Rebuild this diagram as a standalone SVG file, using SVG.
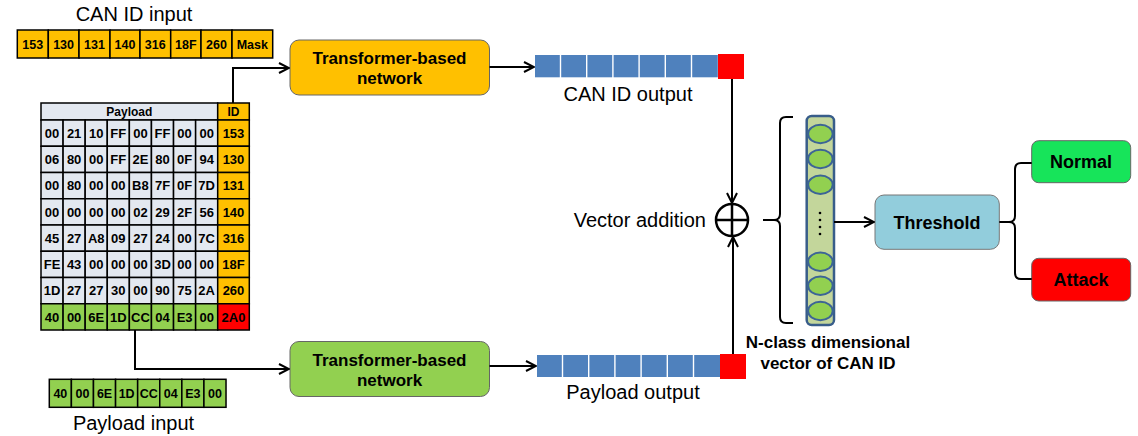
<svg xmlns="http://www.w3.org/2000/svg" width="1138" height="436" viewBox="0 0 1138 436">
<defs>
<marker id="arr" viewBox="0 0 12 12" markerWidth="12" markerHeight="12" refX="11" refY="6" orient="auto" markerUnits="userSpaceOnUse">
<path d="M1,1 L11,6 L1,11" fill="none" stroke="#000" stroke-width="2"/>
</marker>
</defs>
<style>
text{font-family:"Liberation Sans",Arial,sans-serif;fill:#000}
.lbl{font-size:20px}
.b{font-weight:bold}
.cell{font-size:13px;font-weight:bold;text-anchor:middle}
.g{stroke:#000;stroke-width:1.5}
.pl{fill:#E3E8F0}
.or{fill:#FFC000}
.gr{fill:#92D050}
.rd{fill:#FF0000}
.bl{fill:#4F81BD}
.con{fill:none;stroke:#000;stroke-width:2}
.box{stroke:#666;stroke-width:1}
.ttl{font-size:17px;font-weight:bold;text-anchor:middle}
.el{fill:#92D050;stroke:#3C6496;stroke-width:2}
</style>
<rect width="1138" height="436" fill="#fff"/>

<g id="can-id-input">
<text class="lbl" x="134" y="21" text-anchor="middle">CAN ID input</text>
<rect class="g or" x="17.3" y="30" width="31" height="28"/>
<rect class="g or" x="48.3" y="30" width="30.7" height="28"/>
<rect class="g or" x="79" y="30" width="31" height="28"/>
<rect class="g or" x="110" y="30" width="30" height="28"/>
<rect class="g or" x="140" y="30" width="30.7" height="28"/>
<rect class="g or" x="170.7" y="30" width="30.3" height="28"/>
<rect class="g or" x="201" y="30" width="31" height="28"/>
<rect class="g or" x="232" y="30" width="40.7" height="28"/>
<text class="cell" style="font-size:12.5px" y="48.5"><tspan x="32.8">153</tspan><tspan x="63.6">130</tspan><tspan x="94.5">131</tspan><tspan x="125">140</tspan><tspan x="155.3">316</tspan><tspan x="185.8">18F</tspan><tspan x="216.5">260</tspan><tspan x="252.3">Mask</tspan></text>
</g>

<g id="payload-table">
<rect class="g pl" x="41" y="103" width="176.7" height="17"/>
<rect class="g or" x="217.7" y="103" width="31.6" height="17"/>
<text class="cell" style="font-size:12px" x="129.3" y="116">Payload</text>
<text class="cell" style="font-size:12px" x="233.5" y="116">ID</text>
<g id="rows">
<g class="g pl">
<rect x="41" y="120" width="22.09" height="26.25"/><rect x="63.09" y="120" width="22.09" height="26.25"/><rect x="85.18" y="120" width="22.09" height="26.25"/><rect x="107.27" y="120" width="22.09" height="26.25"/><rect x="129.36" y="120" width="22.09" height="26.25"/><rect x="151.45" y="120" width="22.09" height="26.25"/><rect x="173.54" y="120" width="22.09" height="26.25"/><rect x="195.63" y="120" width="22.09" height="26.25"/>
<rect x="41" y="146.25" width="22.09" height="26.25"/><rect x="63.09" y="146.25" width="22.09" height="26.25"/><rect x="85.18" y="146.25" width="22.09" height="26.25"/><rect x="107.27" y="146.25" width="22.09" height="26.25"/><rect x="129.36" y="146.25" width="22.09" height="26.25"/><rect x="151.45" y="146.25" width="22.09" height="26.25"/><rect x="173.54" y="146.25" width="22.09" height="26.25"/><rect x="195.63" y="146.25" width="22.09" height="26.25"/>
<rect x="41" y="172.5" width="22.09" height="26.25"/><rect x="63.09" y="172.5" width="22.09" height="26.25"/><rect x="85.18" y="172.5" width="22.09" height="26.25"/><rect x="107.27" y="172.5" width="22.09" height="26.25"/><rect x="129.36" y="172.5" width="22.09" height="26.25"/><rect x="151.45" y="172.5" width="22.09" height="26.25"/><rect x="173.54" y="172.5" width="22.09" height="26.25"/><rect x="195.63" y="172.5" width="22.09" height="26.25"/>
<rect x="41" y="198.75" width="22.09" height="26.25"/><rect x="63.09" y="198.75" width="22.09" height="26.25"/><rect x="85.18" y="198.75" width="22.09" height="26.25"/><rect x="107.27" y="198.75" width="22.09" height="26.25"/><rect x="129.36" y="198.75" width="22.09" height="26.25"/><rect x="151.45" y="198.75" width="22.09" height="26.25"/><rect x="173.54" y="198.75" width="22.09" height="26.25"/><rect x="195.63" y="198.75" width="22.09" height="26.25"/>
<rect x="41" y="225" width="22.09" height="26.25"/><rect x="63.09" y="225" width="22.09" height="26.25"/><rect x="85.18" y="225" width="22.09" height="26.25"/><rect x="107.27" y="225" width="22.09" height="26.25"/><rect x="129.36" y="225" width="22.09" height="26.25"/><rect x="151.45" y="225" width="22.09" height="26.25"/><rect x="173.54" y="225" width="22.09" height="26.25"/><rect x="195.63" y="225" width="22.09" height="26.25"/>
<rect x="41" y="251.25" width="22.09" height="26.25"/><rect x="63.09" y="251.25" width="22.09" height="26.25"/><rect x="85.18" y="251.25" width="22.09" height="26.25"/><rect x="107.27" y="251.25" width="22.09" height="26.25"/><rect x="129.36" y="251.25" width="22.09" height="26.25"/><rect x="151.45" y="251.25" width="22.09" height="26.25"/><rect x="173.54" y="251.25" width="22.09" height="26.25"/><rect x="195.63" y="251.25" width="22.09" height="26.25"/>
<rect x="41" y="277.5" width="22.09" height="26.25"/><rect x="63.09" y="277.5" width="22.09" height="26.25"/><rect x="85.18" y="277.5" width="22.09" height="26.25"/><rect x="107.27" y="277.5" width="22.09" height="26.25"/><rect x="129.36" y="277.5" width="22.09" height="26.25"/><rect x="151.45" y="277.5" width="22.09" height="26.25"/><rect x="173.54" y="277.5" width="22.09" height="26.25"/><rect x="195.63" y="277.5" width="22.09" height="26.25"/>
</g>
<g class="g gr">
<rect x="41" y="303.75" width="22.09" height="26.25"/><rect x="63.09" y="303.75" width="22.09" height="26.25"/><rect x="85.18" y="303.75" width="22.09" height="26.25"/><rect x="107.27" y="303.75" width="22.09" height="26.25"/><rect x="129.36" y="303.75" width="22.09" height="26.25"/><rect x="151.45" y="303.75" width="22.09" height="26.25"/><rect x="173.54" y="303.75" width="22.09" height="26.25"/><rect x="195.63" y="303.75" width="22.09" height="26.25"/>
</g>
<g class="g or">
<rect x="217.7" y="120" width="31.6" height="26.25"/><rect x="217.7" y="146.25" width="31.6" height="26.25"/><rect x="217.7" y="172.5" width="31.6" height="26.25"/><rect x="217.7" y="198.75" width="31.6" height="26.25"/><rect x="217.7" y="225" width="31.6" height="26.25"/><rect x="217.7" y="251.25" width="31.6" height="26.25"/><rect x="217.7" y="277.5" width="31.6" height="26.25"/>
</g>
<rect class="g rd" x="217.7" y="303.75" width="31.6" height="26.25"/>
</g>
<g id="cell-text">
<text class="cell" y="137.8"><tspan x="52.05">00</tspan><tspan x="74.14">21</tspan><tspan x="96.23">10</tspan><tspan x="118.32">FF</tspan><tspan x="140.41">00</tspan><tspan x="162.5">FF</tspan><tspan x="184.59">00</tspan><tspan x="206.68">00</tspan><tspan x="233.5">153</tspan></text>
<text class="cell" y="164.05"><tspan x="52.05">06</tspan><tspan x="74.14">80</tspan><tspan x="96.23">00</tspan><tspan x="118.32">FF</tspan><tspan x="140.41">2E</tspan><tspan x="162.5">80</tspan><tspan x="184.59">0F</tspan><tspan x="206.68">94</tspan><tspan x="233.5">130</tspan></text>
<text class="cell" y="190.3"><tspan x="52.05">00</tspan><tspan x="74.14">80</tspan><tspan x="96.23">00</tspan><tspan x="118.32">00</tspan><tspan x="140.41">B8</tspan><tspan x="162.5">7F</tspan><tspan x="184.59">0F</tspan><tspan x="206.68">7D</tspan><tspan x="233.5">131</tspan></text>
<text class="cell" y="216.55"><tspan x="52.05">00</tspan><tspan x="74.14">00</tspan><tspan x="96.23">00</tspan><tspan x="118.32">00</tspan><tspan x="140.41">02</tspan><tspan x="162.5">29</tspan><tspan x="184.59">2F</tspan><tspan x="206.68">56</tspan><tspan x="233.5">140</tspan></text>
<text class="cell" y="242.8"><tspan x="52.05">45</tspan><tspan x="74.14">27</tspan><tspan x="96.23">A8</tspan><tspan x="118.32">09</tspan><tspan x="140.41">27</tspan><tspan x="162.5">24</tspan><tspan x="184.59">00</tspan><tspan x="206.68">7C</tspan><tspan x="233.5">316</tspan></text>
<text class="cell" y="269.05"><tspan x="52.05">FE</tspan><tspan x="74.14">43</tspan><tspan x="96.23">00</tspan><tspan x="118.32">00</tspan><tspan x="140.41">00</tspan><tspan x="162.5">3D</tspan><tspan x="184.59">00</tspan><tspan x="206.68">00</tspan><tspan x="233.5">18F</tspan></text>
<text class="cell" y="295.3"><tspan x="52.05">1D</tspan><tspan x="74.14">27</tspan><tspan x="96.23">27</tspan><tspan x="118.32">30</tspan><tspan x="140.41">00</tspan><tspan x="162.5">90</tspan><tspan x="184.59">75</tspan><tspan x="206.68">2A</tspan><tspan x="233.5">260</tspan></text>
<text class="cell" y="321.55"><tspan x="52.05">40</tspan><tspan x="74.14">00</tspan><tspan x="96.23">6E</tspan><tspan x="118.32">1D</tspan><tspan x="140.41">CC</tspan><tspan x="162.5">04</tspan><tspan x="184.59">E3</tspan><tspan x="206.68">00</tspan><tspan x="233.5">2A0</tspan></text>
</g>
</g>

<g id="payload-input">
<g class="g gr">
<rect x="49.3" y="379.3" width="22.09" height="28"/><rect x="71.39" y="379.3" width="22.09" height="28"/><rect x="93.48" y="379.3" width="22.09" height="28"/><rect x="115.57" y="379.3" width="22.09" height="28"/><rect x="137.66" y="379.3" width="22.09" height="28"/><rect x="159.75" y="379.3" width="22.09" height="28"/><rect x="181.84" y="379.3" width="22.09" height="28"/><rect x="203.93" y="379.3" width="22.09" height="28"/>
</g>
<text class="cell" style="font-size:12.5px" y="397.8"><tspan x="60.35">40</tspan><tspan x="82.44">00</tspan><tspan x="104.53">6E</tspan><tspan x="126.62">1D</tspan><tspan x="148.71">CC</tspan><tspan x="170.8">04</tspan><tspan x="192.89">E3</tspan><tspan x="214.98">00</tspan></text>
<text class="lbl" x="133.5" y="430" text-anchor="middle">Payload input</text>
</g>

<g id="transformer-id">
<rect class="box or" x="290" y="40" width="199.5" height="55" rx="9"/>
<text class="ttl" x="389.5" y="64">Transformer-based</text>
<text class="ttl" x="389.5" y="84">network</text>
</g>

<g id="transformer-payload">
<rect class="box gr" x="290" y="341.5" width="199.5" height="55" rx="9"/>
<text class="ttl" x="389.5" y="365.5">Transformer-based</text>
<text class="ttl" x="389.5" y="385.5">network</text>
</g>

<g id="can-id-output">
<rect class="bl" x="535" y="55" width="24.8" height="22.3"/>
<rect class="bl" x="561.2" y="55" width="24.8" height="22.3"/>
<rect class="bl" x="587.4" y="55" width="24.8" height="22.3"/>
<rect class="bl" x="613.6" y="55" width="24.8" height="22.3"/>
<rect class="bl" x="639.8" y="55" width="24.8" height="22.3"/>
<rect class="bl" x="666" y="55" width="24.8" height="22.3"/>
<rect class="bl" x="692.2" y="55" width="25.6" height="22.3"/>
<rect class="rd" x="718" y="54" width="26" height="25"/>
<text class="lbl" x="628" y="101" text-anchor="middle">CAN ID output</text>
</g>

<g id="payload-output">
<rect class="bl" x="537" y="355" width="24.8" height="22"/>
<rect class="bl" x="563.2" y="355" width="24.8" height="22"/>
<rect class="bl" x="589.4" y="355" width="24.8" height="22"/>
<rect class="bl" x="615.6" y="355" width="24.8" height="22"/>
<rect class="bl" x="641.8" y="355" width="24.8" height="22"/>
<rect class="bl" x="668" y="355" width="24.8" height="22"/>
<rect class="bl" x="694.2" y="355" width="25.8" height="22"/>
<rect class="rd" x="720" y="354" width="26" height="25"/>
<text class="lbl" x="633" y="399" text-anchor="middle">Payload output</text>
</g>

<g id="vector-addition">
<circle cx="732" cy="220" r="16" fill="none" stroke="#000" stroke-width="2.5"/>
<path d="M716,220 H748 M732,204 V236" stroke="#000" stroke-width="2.5"/>
<text class="lbl" x="706" y="226.5" text-anchor="end">Vector addition</text>
</g>

<g id="n-class-vector">
<rect x="806.7" y="116" width="27.3" height="209" rx="5" fill="#C3D69B" stroke="#385D8A" stroke-width="2.5"/>
<ellipse class="el" cx="820.4" cy="134" rx="12.3" ry="9.2"/>
<ellipse class="el" cx="820.4" cy="159" rx="12.3" ry="9.2"/>
<ellipse class="el" cx="820.4" cy="184.7" rx="12.3" ry="9.2"/>
<ellipse class="el" cx="820.4" cy="261.7" rx="12.3" ry="9.2"/>
<ellipse class="el" cx="820.4" cy="285.7" rx="12.3" ry="9.2"/>
<ellipse class="el" cx="820.4" cy="311" rx="12.3" ry="9.2"/>
<g fill="#000"><circle cx="820" cy="213" r="1.3"/><circle cx="820" cy="220" r="1.3"/><circle cx="820" cy="227" r="1.3"/><circle cx="820" cy="234" r="1.3"/></g>
<text class="ttl" x="828" y="348">N-class dimensional</text>
<text class="ttl" x="828" y="369">vector of CAN ID</text>
</g>

<g id="threshold">
<rect x="875" y="195" width="124.3" height="54.3" rx="9" fill="#92CDDC" stroke="#777" stroke-width="1"/>
<text class="ttl" style="font-size:18px" x="937" y="228.5">Threshold</text>
</g>

<g id="normal">
<rect x="1031.7" y="140.7" width="99" height="42" rx="7" fill="#17E45A" stroke="#666" stroke-width="1"/>
<text class="ttl" style="font-size:18px" x="1081" y="168">Normal</text>
</g>

<g id="attack">
<rect x="1031.7" y="258.3" width="99" height="42.7" rx="7" fill="#FF0000" stroke="#666" stroke-width="1"/>
<text class="ttl" style="font-size:18px" x="1081" y="286">Attack</text>
</g>

<g id="connectors">
<path class="con" d="M233,103 V68 H289" marker-end="url(#arr)"/>
<path class="con" d="M135,330 V369 H289" marker-end="url(#arr)"/>
<path class="con" d="M489.5,67 H534" marker-end="url(#arr)"/>
<path class="con" d="M489.5,366 H536" marker-end="url(#arr)"/>
<path class="con" d="M732,79 V203" marker-end="url(#arr)"/>
<path class="con" d="M733,354 V237" marker-end="url(#arr)"/>
<path class="con" d="M793,117 H786 Q780,117 780,123 V214 Q780,220 774,220 H763 M774,220 Q780,220 780,226 V317 Q780,323 786,323 H793"/>
<path class="con" d="M834,222 H874" marker-end="url(#arr)"/>
<path class="con" d="M999.3,222 H1009 Q1015,222 1015,216 V169 Q1015,163 1021,163 H1031.7 M1009,222 Q1015,222 1015,228 V273 Q1015,279 1021,279 H1031.7"/>
</g>
</svg>
